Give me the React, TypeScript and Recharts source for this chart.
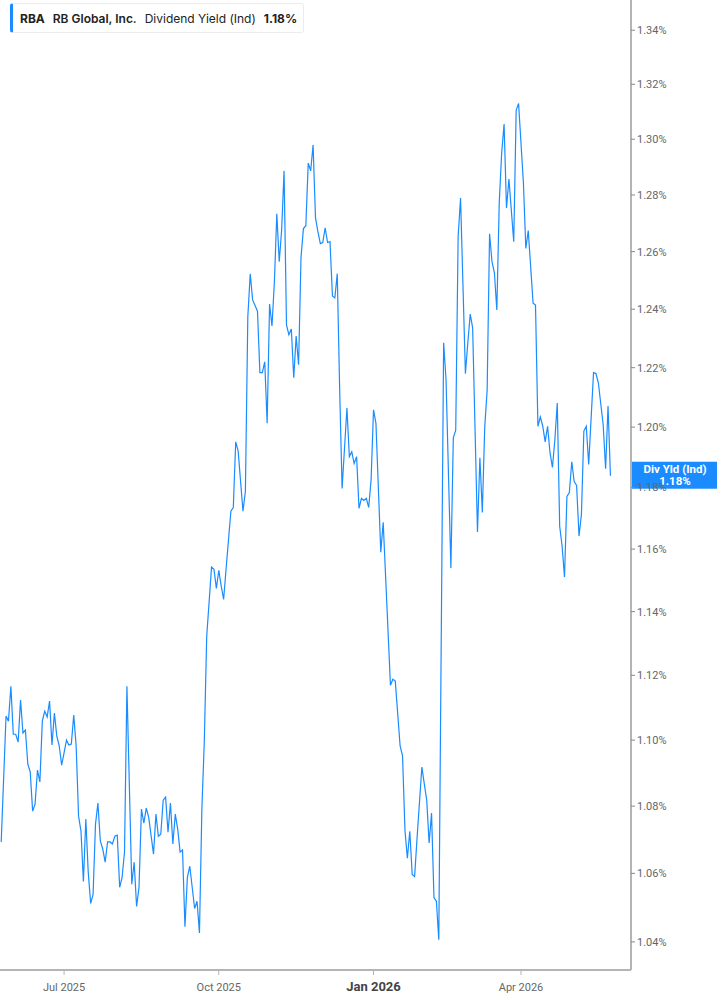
import { LineChart, Line, XAxis, YAxis, ReferenceLine } from "recharts";

// trading-day index (0 = 22 May 2025) and indicated dividend yield, in %
const days = [
  0, 2, 3, 4, 5, 6, 7, 8, 9, 10, 11, 12, 13, 14, 15, 16, 17, 18, 19, 20,
  21, 22, 23, 24, 25, 26, 27, 28, 29, 30, 31, 32, 33, 34, 35, 36, 37, 38, 39, 40,
  41, 42, 43, 44, 45, 46, 47, 48, 49, 50, 51, 52, 54, 55, 56, 57, 58, 59, 60, 61,
  63, 64, 65, 66, 67, 68, 69, 70, 71, 72, 73, 74, 75, 76, 77, 78, 79, 80, 81, 82,
  83, 84, 85, 87, 88, 89, 90, 91, 92, 93, 95, 96, 97, 98, 100, 101, 102, 103, 104, 106,
  107, 108, 109, 110, 111, 112, 113, 114, 115, 116, 117, 118, 119, 120, 121, 122, 123, 124, 125, 126,
  127, 128, 129, 130, 131, 132, 133, 134, 135, 136, 137, 138, 139, 140, 141, 143, 144, 145, 146, 147,
  148, 149, 150, 151, 152, 153, 154, 155, 157, 158, 161, 162, 163, 165, 166, 167, 168, 169, 170, 171,
  172, 174, 175, 176, 177, 178, 179, 180, 181, 183, 184, 186, 187, 188, 189, 190, 192, 193, 194, 195,
  197, 198, 199, 200, 201, 202, 203, 204, 205, 206, 207, 208, 209, 210, 212, 213, 214, 216, 217, 218,
  220, 221, 222, 223, 224, 225, 226, 227, 228, 229, 230, 231, 232, 233, 234, 235, 236, 237, 238, 239,
  240, 241, 242, 243, 245, 246, 247, 249, 250, 251, 252,
];

const yields = [
  1.0693, 1.1074, 1.1058, 1.1166, 1.1018, 1.1018, 1.0994, 1.1123, 1.1022, 1.1031, 1.0927, 1.0903, 1.0785, 1.0806, 1.0909, 1.0873, 1.1058, 1.1089, 1.1071, 1.112,
  1.0985, 1.1083, 1.1012, 1.0982, 1.0924, 1.0961, 1.1, 1.0985, 1.0988, 1.1077, 1.0982, 1.077, 1.0725, 1.0576, 1.0761, 1.0603, 1.0512, 1.0538, 1.0746, 1.0809,
  1.0696, 1.0672, 1.0633, 1.0693, 1.0693, 1.0687, 1.071, 1.0713, 1.0559, 1.0588, 1.0663, 1.1166, 1.0568, 1.0633, 1.0503, 1.0559, 1.0791, 1.0749, 1.0794, 1.0767,
  1.0657, 1.0776, 1.071, 1.0716, 1.0818, 1.0827, 1.0722, 1.0809, 1.0687, 1.0776, 1.0731, 1.0663, 1.0669, 1.0444, 1.0588, 1.0621, 1.0559, 1.0497, 1.0518, 1.0426,
  1.0791, 1.0994, 1.1322, 1.1542, 1.1535, 1.1474, 1.1532, 1.1481, 1.1439, 1.1535, 1.1723, 1.1735, 1.1951, 1.1921, 1.1723, 1.1787, 1.2373, 1.2523, 1.2432, 1.2393,
  1.2183, 1.2183, 1.222, 1.2013, 1.2418, 1.2342, 1.2495, 1.2733, 1.2565, 1.2677, 1.2886, 1.2346, 1.2312, 1.2332, 1.2166, 1.2308, 1.221, 1.2579, 1.2681, 1.2691,
  1.2914, 1.2886, 1.2979, 1.2719, 1.267, 1.2628, 1.2632, 1.2684, 1.2632, 1.2635, 1.2446, 1.2439, 1.2523, 1.2125, 1.1797, 1.2064, 1.1902, 1.1918, 1.1879, 1.1902,
  1.1732, 1.1765, 1.1758, 1.1765, 1.1735, 1.1826, 1.2058, 1.2013, 1.159, 1.1687, 1.1169, 1.1188, 1.1182, 1.0982, 1.0952, 1.0728, 1.0645, 1.0725, 1.0597, 1.0591,
  1.0704, 1.0918, 1.0867, 1.0818, 1.069, 1.0779, 1.0529, 1.0518, 1.0406, 1.2285, 1.2159, 1.1539, 1.1964, 1.199, 1.2653, 1.2789, 1.218, 1.2285, 1.2383, 1.2336,
  1.1655, 1.1898, 1.1719, 1.2, 1.2125, 1.2663, 1.2565, 1.2526, 1.2397, 1.2771, 1.295, 1.3055, 1.2754, 1.2857, 1.2635, 1.3105, 1.313, 1.2843, 1.2611, 1.2674,
  1.2421, 1.2414, 1.2003, 1.2034, 1.2003, 1.1951, 1.2003, 1.1915, 1.1866, 1.1957, 1.2081, 1.1674, 1.161, 1.151, 1.1771, 1.1784, 1.1885, 1.182, 1.1807, 1.1642,
  1.1713, 1.1987, 1.2003, 1.1876, 1.2183, 1.218, 1.2149, 1.2007, 1.1862, 1.2071, 1.1839,
];

const yTicks = [1.04, 1.06, 1.08, 1.1, 1.12, 1.14, 1.16, 1.18, 1.2, 1.22, 1.24, 1.26, 1.28, 1.3, 1.32, 1.34];
const monthTicks = [26, 90, 154, 215];
const monthLabels = ["Jul 2025", "Oct 2025", "Jan 2026", "Apr 2026"];

const data = days.map((d, i) => ({ d, v: yields[i] }));
const lastValue = yields[yields.length - 1];

const BLUE = "#1a8cff";
const AXIS = "#b4b4b4";

function MonthTick(props: any) {
  const { x, y, payload } = props;
  const i = monthTicks.indexOf(payload.value);
  const label = monthLabels[i] ?? "";
  const isYear = label.startsWith("Jan");
  return (
    <text
      x={x}
      y={y + 14}
      textAnchor="middle"
      fontFamily="Roboto, sans-serif"
      fontSize={isYear ? 13 : 11}
      fontWeight={isYear ? 700 : 400}
      fill={isYear ? "#444" : "#666"}
    >
      {label}
    </text>
  );
}

function LastTag(props: any) {
  const { viewBox } = props;
  if (!viewBox) return null;
  const x = viewBox.x + viewBox.width;
  const y = viewBox.y;
  return (
    <g>
      <rect x={x + 1} y={y - 14} width={86} height={27} fill={BLUE} />
      <text x={x + 44} y={y - 3} textAnchor="middle" fontFamily="Roboto, sans-serif" fontSize={11.5} fontWeight={700} fill="#fff">
        Div Yld (Ind)
      </text>
      <text x={x + 44} y={y + 9} textAnchor="middle" fontFamily="Roboto, sans-serif" fontSize={11.5} fontWeight={700} fill="#fff">
        {lastValue.toFixed(2)}%
      </text>
    </g>
  );
}

export default function App() {
  return (
    <div style={{ position: "absolute", left: 0, top: 0, width: 717, height: 1005, background: "#fff" }}>
      <LineChart width={717} height={1005} data={data} margin={{ top: 0, right: 0, left: 0, bottom: 0 }}>
        <XAxis
          type="number"
          dataKey="d"
          domain={[-0.5, 260.5]}
          ticks={monthTicks}
          tick={<MonthTick />}
          axisLine={{ stroke: AXIS, strokeWidth: 2 }}
          tickLine={{ stroke: AXIS }}
          tickSize={5}
          height={35}
          allowDataOverflow
        />
        <YAxis
          orientation="right"
          type="number"
          scale="log"
          domain={[1.0319, 1.3513]}
          ticks={yTicks}
          allowDataOverflow
          width={86}
          axisLine={{ stroke: AXIS, strokeWidth: 2 }}
          tickLine={{ stroke: "#888" }}
          tickSize={4}
          tickFormatter={(v: number) => `${v.toFixed(2)}%`}
          tick={{ fill: "#666", fontSize: 11, fontFamily: "Roboto, sans-serif" }}
        />
        <Line
          type="linear"
          dataKey="v"
          stroke={BLUE}
          strokeWidth={1.2}
          dot={false}
          activeDot={false}
          isAnimationActive={false}
        />
        <ReferenceLine y={lastValue} stroke="none" ifOverflow="visible" label={<LastTag />} />
      </LineChart>
      <div
        style={{
          position: "absolute",
          left: 10,
          top: 3,
          height: 28,
          display: "flex",
          alignItems: "center",
          gap: 8,
          padding: "0 6px 0 7px",
          background: "#fff",
          border: "1px solid #ececec",
          borderLeft: `3px solid ${BLUE}`,
          borderRadius: 3,
          fontFamily: "Inter, sans-serif",
          fontSize: 12,
          color: "#222",
          whiteSpace: "nowrap",
        }}
      >
        <span style={{ fontWeight: 700 }}>RBA</span>
        <span style={{ fontWeight: 600 }}>RB Global, Inc.</span>
        <span style={{ fontWeight: 400 }}>Dividend Yield (Ind)</span>
        <span style={{ fontWeight: 700 }}>1.18%</span>
      </div>
    </div>
  );
}
